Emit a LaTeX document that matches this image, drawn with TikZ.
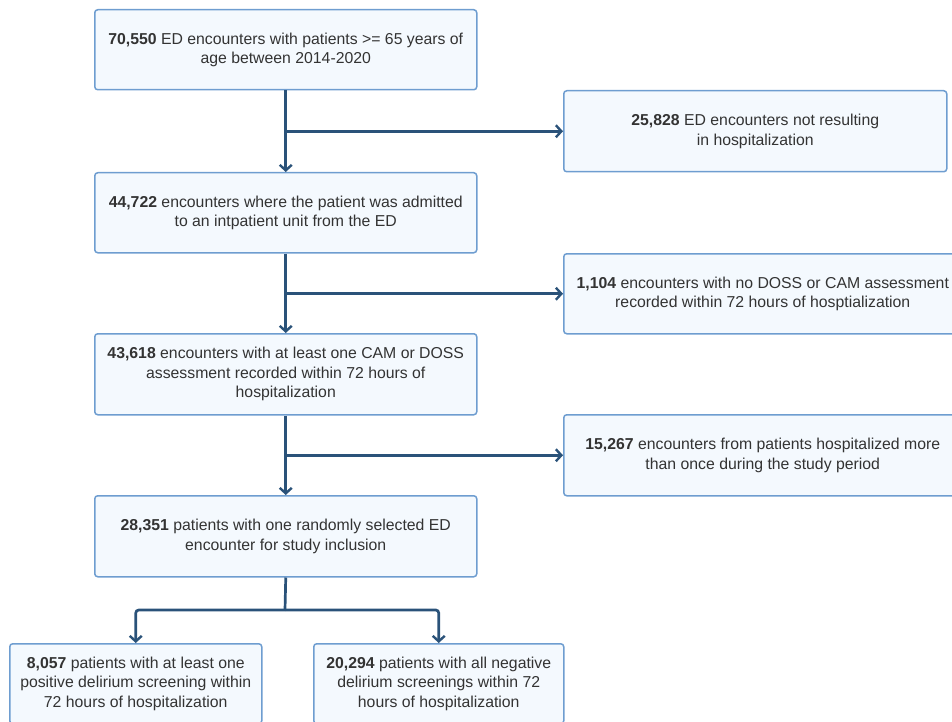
\documentclass[tikz,border=0pt]{standalone}
\usepackage{fontspec}
\setmainfont{Liberation Sans}
\usetikzlibrary{arrows.meta}
\definecolor{boxborder}{HTML}{6E9DD0}
\definecolor{boxfill}{HTML}{F4F9FE}
\definecolor{linecol}{HTML}{2A5279}
\definecolor{txtcol}{HTML}{333333}
\tikzset{
  flowbox/.style={draw=boxborder, fill=boxfill, line width=1.5pt, rounded corners=3pt,
    anchor=north west, align=center, inner sep=0pt, text=txtcol,
    font=\fontsize{15.8}{19.5}\selectfont},
  arr/.style={draw=linecol, line width=2.7pt, rounded corners=3pt,
    -{Straight Barb[length=5.5pt,width=12pt,line width=2.4pt]}},
  plain/.style={draw=linecol, line width=2.7pt, rounded corners=3pt}
}
\begin{document}
\begin{tikzpicture}[x=1pt,y=-1pt]
\useasboundingbox (0,0) rectangle (952,722);
\node[flowbox, minimum width=382pt, minimum height=80pt] (b1) at (94,9)
  {\textbf{70,550} ED encounters with patients >= 65 years of\\age between 2014-2020};
\node[flowbox, minimum width=383pt, minimum height=81pt] (r1) at (563,90)
  {\textbf{25,828} ED encounters not resulting\\in hospitalization};
\node[flowbox, minimum width=382pt, minimum height=80pt] (b2) at (94,172)
  {\textbf{44,722} encounters where the patient was admitted\\to an intpatient unit from the ED};
\node[flowbox, minimum width=398pt, minimum height=80pt] (r2) at (563,253)
  {\textbf{1,104} encounters with no DOSS or CAM assessment\\recorded within 72 hours of hosptialization};
\node[flowbox, minimum width=382pt, minimum height=81pt] (b3) at (94,333)
  {\textbf{43,618} encounters with at least one CAM or DOSS\\assessment recorded within 72 hours of\\hospitalization};
\node[flowbox, minimum width=398pt, minimum height=81pt] (r3) at (563,414)
  {\textbf{15,267} encounters from patients hospitalized more\\than once during the study period};
\node[flowbox, minimum width=382pt, minimum height=81pt] (b4) at (94,495)
  {\textbf{28,351} patients with one randomly selected ED\\encounter for study inclusion};
\node[flowbox, minimum width=252pt, minimum height=80pt] (b5) at (9,643)
  {\textbf{8,057} patients with at least one\\positive delirium screening within\\72 hours of hospitalization};
\node[flowbox, minimum width=250pt, minimum height=80pt] (b6) at (313,643)
  {\textbf{20,294} patients with all negative\\delirium screenings within 72\\hours of hospitalization};
\coordinate (j1) at (b1.south |- r1.west);
\coordinate (j2) at (b2.south |- r2.west);
\coordinate (j3) at (b3.south |- r3.west);
\coordinate (fk) at (285,610);
\draw[arr] (b1.south) -- (b2.north);
\draw[arr] (j1) -- (r1.west);
\draw[arr] (b2.south) -- (b3.north);
\draw[arr] (j2) -- (r2.west);
\draw[arr] (b3.south) -- (b4.north);
\draw[arr] (j3) -- (r3.west);
\draw[plain] (b4.south) -- (fk);
\draw[arr] (fk) -| (b5.north);
\draw[arr] (fk) -| (b6.north);
\end{tikzpicture}
\end{document}
